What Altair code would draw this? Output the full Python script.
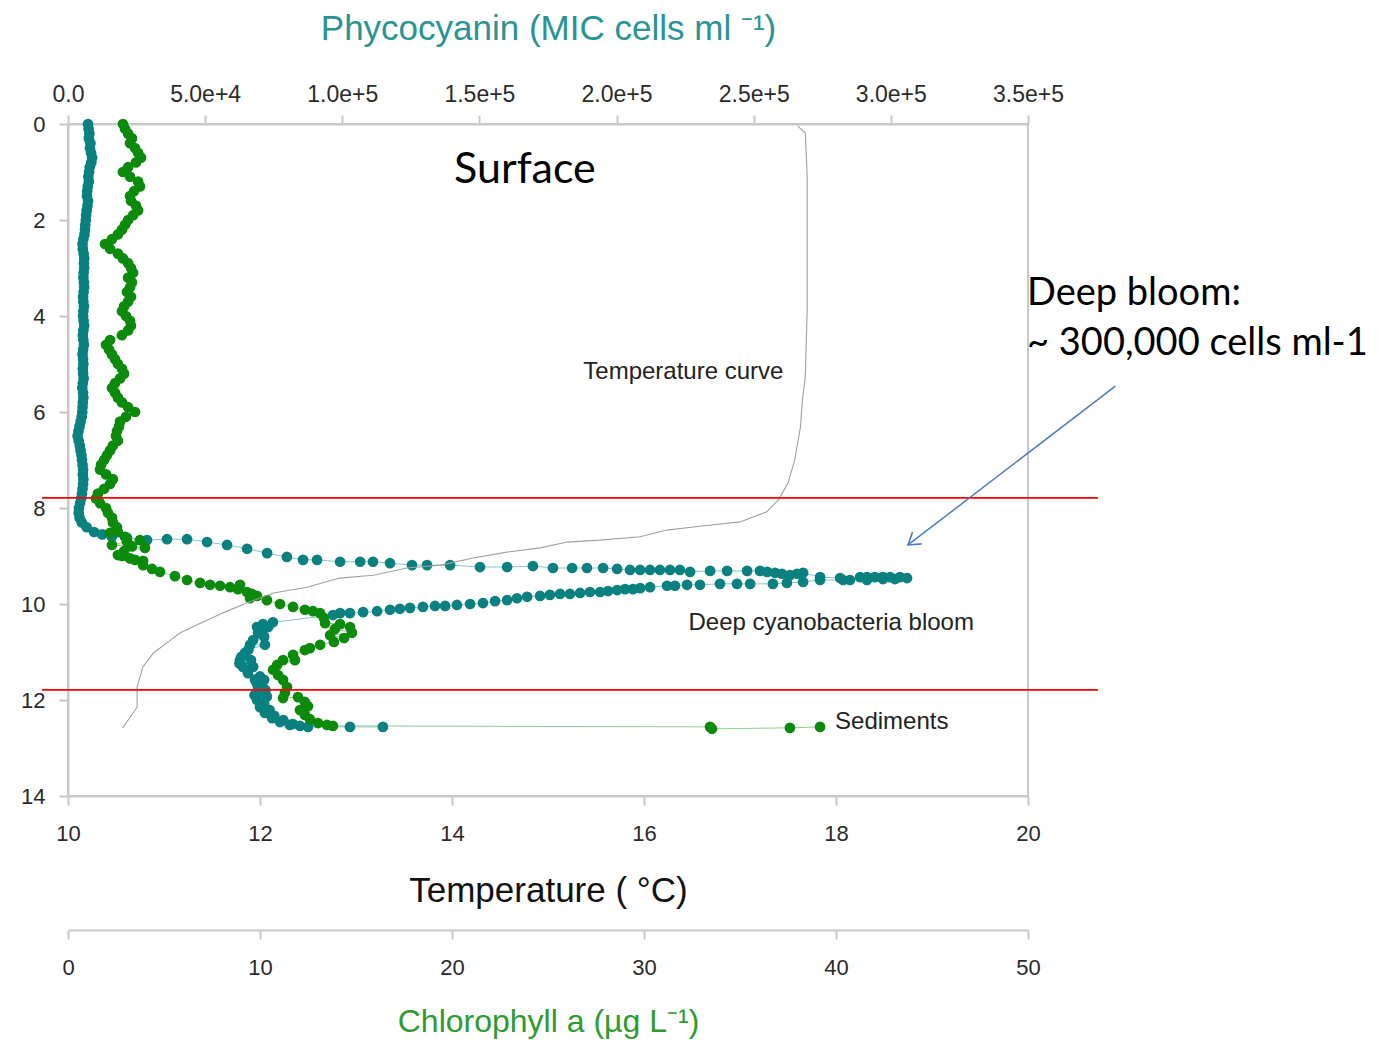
import altair as alt
import pandas as pd

# ---------------- data ----------------
# Phycocyanin profile (depth m, cells ml-1), in recorded order
teal_depth = [
    0.0, 0.1, 0.2, 0.3, 0.4, 0.5, 0.6, 0.7, 0.8, 0.9,
    1.0, 1.1, 1.2, 1.3, 1.4, 1.5, 1.6, 1.7, 1.8, 1.9,
    2.0, 2.1, 2.2, 2.3, 2.4, 2.5, 2.6, 2.7, 2.8, 2.9,
    3.0, 3.1, 3.2, 3.3, 3.4, 3.5, 3.6, 3.7, 3.8, 3.9,
    4.0, 4.1, 4.2, 4.3, 4.4, 4.5, 4.6, 4.7, 4.8, 4.9,
    5.0, 5.1, 5.2, 5.3, 5.4, 5.5, 5.6, 5.7, 5.8, 5.9,
    6.0, 6.1, 6.2, 6.3, 6.4, 6.5, 6.6, 6.7, 6.8, 6.9,
    7.0, 7.1, 7.2, 7.3, 7.4, 7.5, 7.6, 7.7, 7.8, 7.9,
    8.0, 8.1, 8.2, 8.3, 8.4, 8.5, 8.55, 8.6,
    8.62, 8.67, 8.65, 8.65, 8.71, 8.77, 8.85, 8.94, 9.02, 9.08,
    9.08, 9.12, 9.12, 9.12, 9.15, 9.19, 9.19, 9.19, 9.23, 9.23,
    9.21, 9.25, 9.25, 9.25, 9.25, 9.27, 9.29, 9.29, 9.29, 9.29,
    9.29, 9.29, 9.33, 9.31, 9.31, 9.31, 9.31, 9.33, 9.35, 9.37,
    9.40, 9.37, 9.35, 9.44, 9.46, 9.50, 9.44, 9.44, 9.44, 9.44,
    9.44, 9.44, 9.46,
    9.48, 9.48, 9.50, 9.50, 9.50, 9.54, 9.56, 9.58, 9.58, 9.58,
    9.58, 9.60, 9.60, 9.62, 9.62, 9.65, 9.67, 9.69, 9.69, 9.71,
    9.73, 9.75, 9.75, 9.77, 9.79, 9.79, 9.81, 9.83, 9.85, 9.88,
    9.92, 9.94, 9.98, 10.0, 10.02, 10.04, 10.04, 10.06, 10.08, 10.10,
    10.12, 10.15, 10.17, 10.19, 10.19, 10.23,
    10.38, 10.42, 10.48, 10.48, 10.55, 10.60, 10.68, 10.75, 10.85, 10.85,
    10.95, 11.02, 11.10, 11.17, 11.17, 11.24, 11.31, 11.31, 11.44, 11.51,
    11.58, 11.58, 11.65, 11.73, 11.79, 11.85, 11.90, 11.93, 12.0, 12.08,
    12.15, 12.21, 12.27, 12.33, 12.38, 12.42, 12.46, 12.50, 12.52, 12.54,
    12.56, 12.56, 12.56,
]
teal_cells = [
    7300, 7500, 7800, 7600, 8200, 8000, 8400, 8800, 8500, 7900,
    7700, 7400, 7600, 7200, 7000, 6900, 7300, 7100, 6800, 6600,
    6500, 6300, 6200, 6000, 5600, 5300, 5400, 5700, 5900, 5800,
    5900, 5700, 5600, 5800, 5900, 5700, 5500, 5600, 5800, 5600,
    5500, 5700, 5900, 5600, 5400, 5600, 5800, 5500, 5300, 5500,
    5600, 5400, 5500, 5700, 5400, 5200, 5500, 5600, 5400, 5300,
    5200, 5000, 4600, 4200, 3800, 3500, 3900, 4300, 4600, 4900,
    5100, 5300, 5500, 5400, 5600, 5500, 5300, 5100, 4800, 4400,
    4000, 3900, 4200, 5000, 6800, 9500, 12500, 16000,
    21500, 28800, 36100, 43400, 50700, 58000, 65300, 72600, 79800, 85700,
    90800, 99200, 106500, 111200, 117400, 125400, 130900, 139300, 150200, 160100,
    169500, 176800, 183800, 189200, 195100, 200200, 204900, 208600, 212200, 215800,
    219500, 223100, 226800, 234100, 240300, 247600, 252300, 254900, 257800, 260300,
    263200, 265800, 268000, 274200, 281500, 285100, 288800, 291300, 294200, 297100,
    299700, 303300, 305900,
    301500, 297100, 291300, 282600, 274200, 268000, 262100, 257000, 248700, 243900,
    237700, 230400, 225700, 221300, 218400, 212200, 208600, 206000, 203100, 200200,
    196900, 194000, 190300, 186700, 183000, 179400, 175700, 172100, 167400, 163700,
    160100, 155700, 151300, 146600, 141800, 137500, 133800, 129400, 124700, 121000,
    117400, 112700, 107600, 102800, 99200, 96600,
    74700, 71100, 68900, 73000, 70500, 69300, 71500, 67500, 66400, 71800,
    65800, 64500, 63200, 62700, 66700, 62500, 63800, 67500, 65600, 70000,
    68200, 71500, 68800, 69300, 72000, 69300, 68000, 72500, 68900, 71500,
    70000, 73500, 71800, 75200, 74400, 78500, 77300, 82000, 80900, 84600,
    87500, 102800, 114800,
]

# Chlorophyll a profile (depth m, ug L-1), in recorded order
green_depth = [
    0.0, 0.1, 0.2, 0.3, 0.4, 0.5, 0.6, 0.7, 0.8, 0.9,
    1.0, 1.1, 1.2, 1.3, 1.4, 1.5, 1.6, 1.7, 1.8, 1.9,
    2.0, 2.1, 2.2, 2.3, 2.4, 2.5, 2.6, 2.7, 2.8, 2.9,
    3.0, 3.1, 3.2, 3.3, 3.4, 3.5, 3.6, 3.7, 3.8, 3.9,
    4.0, 4.1, 4.2, 4.3, 4.4, 4.5, 4.6, 4.7, 4.8, 4.9,
    5.0, 5.1, 5.2, 5.3, 5.4, 5.5, 5.6, 5.7, 5.8, 5.9,
    6.0, 6.1, 6.2, 6.3, 6.4, 6.5, 6.6, 6.7, 6.8, 6.9,
    7.0, 7.1, 7.2, 7.3, 7.4, 7.5, 7.6, 7.7, 7.8, 7.9,
    8.0, 8.1, 8.2, 8.3, 8.4, 8.5, 8.52, 8.6, 8.67, 8.7,
    8.77, 8.8, 8.83, 8.9, 8.98, 9.0, 9.05, 9.08, 9.1,
    9.19, 9.27, 9.33, 9.42, 9.50, 9.56, 9.60, 9.60, 9.62, 9.65,
    9.69, 9.75, 9.79, 9.83, 9.88, 9.92, 10.0, 10.06, 10.12, 10.15,
    10.19, 10.29, 10.40,
    10.42, 10.48, 10.52, 10.60, 10.65, 10.71, 10.79, 10.85, 10.92, 10.96,
    11.06, 11.17, 11.17, 11.27, 11.37, 11.48, 11.58, 11.73, 11.85, 11.96,
    11.94, 12.04, 12.13, 12.21, 12.31, 12.40, 12.48, 12.52, 12.54,
    12.56, 12.60, 12.58, 12.56,
]
green_chl = [
    2.86, 2.97, 3.13, 3.33, 3.23, 3.49, 3.65, 3.80, 3.54, 3.13,
    2.86, 3.23, 3.65, 3.75, 3.44, 3.23, 3.28, 3.54, 3.65, 3.39,
    3.13, 2.97, 2.81, 2.60, 2.29, 1.93, 2.19, 2.60, 2.86, 3.13,
    3.28, 3.39, 3.13, 3.33, 3.23, 3.07, 3.28, 3.13, 2.92, 2.81,
    3.02, 3.23, 3.28, 3.13, 2.81, 2.19, 1.98, 2.14, 2.29, 2.45,
    2.60, 2.81, 2.92, 2.71, 2.45, 2.29, 2.45, 2.60, 2.81, 3.13,
    3.49, 3.02, 2.71, 2.66, 2.55, 2.50, 2.60, 2.34, 2.19, 2.03,
    1.88, 1.72, 1.67, 1.98, 2.34, 2.19, 1.88, 1.56, 1.46, 1.67,
    1.98, 2.08, 2.29, 2.34, 2.55, 2.60, 2.19, 2.97, 3.75, 3.07,
    2.29, 3.33, 4.01, 2.92, 2.60, 2.81, 3.23, 3.49, 3.91,
    3.91, 4.38, 4.79, 5.57, 6.20, 6.88, 7.40, 8.96, 7.92, 8.44,
    8.85, 9.32, 9.58, 9.84, 9.48, 10.36, 11.04, 11.72, 12.34, 12.76,
    13.13, 13.33, 13.39,
    14.17, 14.69, 13.90, 14.79, 13.65, 14.38, 13.85, 13.13, 12.60, 12.34,
    11.72, 11.20, 11.82, 10.89, 10.68, 10.94, 11.20, 11.41, 11.30, 11.20,
    11.98, 12.34, 12.50, 12.08, 12.34, 12.60, 13.02, 13.49, 13.80,
    33.44, 33.54, 37.60, 39.17,
]

# Temperature curve (depth m, deg C)
temp_depth = [0.04, 0.19, 1.10, 2.48, 3.88, 4.56, 5.27, 5.75, 6.31, 7.00,
              7.48, 7.83, 8.08, 8.29, 8.38, 8.46, 8.60, 8.67, 8.71, 8.83,
              8.92, 9.04, 9.19, 9.25, 9.40, 9.46, 9.65, 9.77, 9.98, 10.19,
              10.40, 10.60, 10.81, 11.02, 11.31, 11.73, 12.15, 12.35, 12.58]
temp_c = [17.60, 17.68, 17.70, 17.70, 17.70, 17.69, 17.68, 17.65, 17.63, 17.57,
          17.50, 17.40, 17.28, 17.00, 16.58, 16.24, 15.96, 15.54, 15.20, 14.92,
          14.57, 14.22, 13.88, 13.53, 13.18, 12.83, 12.49, 12.14, 11.86, 11.61,
          11.38, 11.17, 11.03, 10.89, 10.78, 10.72, 10.72, 10.65, 10.57]

# Layer boundaries (red lines), depth m
boundary_depth = [7.79, 11.79]

# Annotations placed in temperature / depth units
note_text = ["Temperature curve", "Deep cyanobacteria bloom"]
note_temp = [16.41, 17.95]
note_depth = [5.17, 10.40]
sed_text = ["Sediments"]
sed_temp = [17.99]
sed_depth = [12.46]
surface_text = ["Surface"]
surface_temp = [14.76]
surface_depth = [0.96]
bloom_text = ["Deep bloom:", "~ 300,000 cells ml-1"]
bloom_temp = [19.99, 19.99]
bloom_depth = [3.54, 4.58]
arrow_temp = [20.91, 18.75]
arrow_depth = [5.46, 8.77]

depth_ticks = [0, 2, 4, 6, 8, 10, 12, 14]
temp_ticks = [10, 12, 14, 16, 18, 20]
phyco_ticks = [0, 50000, 100000, 150000, 200000, 250000, 300000, 350000]
chl_ticks = [0, 10, 20, 30, 40, 50]

# ---------------- styling ----------------
TEAL = "#0a8080"
GREEN = "#0b8a0b"
LABEL_FONT = "Liberation Sans"
NOTE_FONT = "Lato"
AX_GRAY = "#c8c8c8"
LAB_COL = "#2a2a2a"
PT_SIZE = 115

y_scale = alt.Scale(domain=[0, 14], reverse=True, nice=False, zero=False)
y_axis = alt.Axis(values=depth_ticks, orient="left", grid=False, title=None,
                  labelFont=LABEL_FONT, labelFontSize=22, labelColor=LAB_COL,
                  labelPadding=14, tickSize=9, tickColor=AX_GRAY, tickWidth=2,
                  domainColor=AX_GRAY, domainWidth=2)


def Y():
    return alt.Y("depth:Q", scale=y_scale, axis=y_axis)


temp_scale = alt.Scale(domain=[10, 20], nice=False, zero=False)
phyco_scale = alt.Scale(domain=[0, 350000], nice=False, zero=False)
chl_scale = alt.Scale(domain=[0, 50], nice=False, zero=False)

common_axis = dict(grid=False, labelFont=LABEL_FONT,
                   labelColor=LAB_COL, tickSize=9, tickColor=AX_GRAY, tickWidth=2,
                   domainColor=AX_GRAY, domainWidth=2, labelFlush=False,
                   labelOverlap=False, titleFont=LABEL_FONT,
                   titleFontWeight="normal", titleBaseline="middle")

temp_axis = alt.Axis(orient="bottom", values=temp_ticks, labelPadding=18,
                     labelFontSize=22, title="Temperature ( °C)", titleColor="#111",
                     titleFontSize=35, titleY=94, **common_axis)
phyco_axis = alt.Axis(orient="top", values=phyco_ticks, labelPadding=9,
                      labelFontSize=23,
                      labelExpr="datum.value == 0 ? '0.0' : format(datum.value, '.1e')",
                      title="Phycocyanin (MIC cells ml ⁻¹)", titleColor="#2a9393",
                      titleFontSize=35, titleY=-96, **common_axis)
chl_axis = alt.Axis(orient="bottom", values=chl_ticks, offset=134, labelPadding=18,
                    labelFontSize=22, title="Chlorophyll  a (µg L⁻¹)",
                    titleColor="#2f9a2f", titleFontSize=32, titleY=91, **common_axis)

teal_df = pd.DataFrame({"depth": teal_depth, "cells": teal_cells,
                        "i": list(range(len(teal_depth)))})
green_df = pd.DataFrame({"depth": green_depth, "chl": green_chl,
                         "i": list(range(len(green_depth)))})
temp_df = pd.DataFrame({"depth": temp_depth, "temp": temp_c,
                        "i": list(range(len(temp_depth)))})

teal_line = alt.Chart(teal_df).mark_line(color="#8cc5c5", strokeWidth=1).encode(
    x=alt.X("cells:Q", scale=phyco_scale, axis=None), y=Y(), order="i:Q")
teal_pts = alt.Chart(teal_df).mark_circle(color=TEAL, size=PT_SIZE, opacity=1).encode(
    x=alt.X("cells:Q", scale=phyco_scale, axis=phyco_axis), y=Y())

green_line = alt.Chart(green_df).mark_line(color="#8fcf8f", strokeWidth=1).encode(
    x=alt.X("chl:Q", scale=chl_scale, axis=None), y=Y(), order="i:Q")
green_pts = alt.Chart(green_df).mark_circle(color=GREEN, size=PT_SIZE, opacity=1).encode(
    x=alt.X("chl:Q", scale=chl_scale, axis=chl_axis), y=Y())

temp_line = alt.Chart(temp_df).mark_line(color="#a0a0a0", strokeWidth=1.1).encode(
    x=alt.X("temp:Q", scale=temp_scale, axis=temp_axis), y=Y(), order="i:Q")

rules = alt.Chart(pd.DataFrame({"depth": boundary_depth})).mark_rule(
    color="#ff0000", strokeWidth=1.6).encode(
    x=alt.value(-26), x2=alt.value(1030), y=Y())

notes = alt.Chart(pd.DataFrame({"t": note_text, "temp": note_temp, "depth": note_depth})
                  ).mark_text(font=LABEL_FONT, fontSize=24, color="#222", align="center",
                              baseline="middle").encode(
    x=alt.X("temp:Q", scale=temp_scale, axis=None), y=Y(), text="t:N")
sed = alt.Chart(pd.DataFrame({"t": sed_text, "temp": sed_temp, "depth": sed_depth})
                ).mark_text(font=LABEL_FONT, fontSize=24, color="#222", align="left",
                            baseline="middle").encode(
    x=alt.X("temp:Q", scale=temp_scale, axis=None), y=Y(), text="t:N")
surface = alt.Chart(pd.DataFrame({"t": surface_text, "temp": surface_temp,
                                  "depth": surface_depth})
                    ).mark_text(font=NOTE_FONT, fontSize=43, color="#000", align="center",
                                baseline="middle").encode(
    x=alt.X("temp:Q", scale=temp_scale, axis=None), y=Y(), text="t:N")
bloom = alt.Chart(pd.DataFrame({"t": bloom_text, "temp": bloom_temp,
                                "depth": bloom_depth})
                  ).mark_text(font=NOTE_FONT, fontSize=38, color="#000", align="left",
                              baseline="middle").encode(
    x=alt.X("temp:Q", scale=temp_scale, axis=None), y=Y(), text="t:N")

arrow_df = pd.DataFrame({"temp": arrow_temp, "depth": arrow_depth, "i": [0, 1]})
arrow_line = alt.Chart(arrow_df).mark_line(color="#4a7cc0", strokeWidth=1.5).encode(
    x=alt.X("temp:Q", scale=temp_scale, axis=None), y=Y(), order="i:Q")
arrow_head = alt.Chart(arrow_df.iloc[[1]]).mark_point(
    shape="M -1 -0.65 L 0 0 L -1 0.65", filled=False, color="#4a7cc0",
    strokeWidth=1.6, size=520, angle=142.5, opacity=1).encode(
    x=alt.X("temp:Q", scale=temp_scale, axis=None), y=Y())

chart = alt.layer(
    teal_line, green_line, teal_pts, green_pts, temp_line, rules,
    notes, sed, surface, bloom, arrow_line, arrow_head
).resolve_scale(x="independent").properties(
    width=960, height=672,
    autosize=alt.AutoSizeParams(type="none"),
    padding={"left": 60, "top": 116, "right": 340, "bottom": 246},
).configure_view(stroke=AX_GRAY, strokeWidth=2)

chart.save("out.html", embed_options={"renderer": "svg", "actions": False})
